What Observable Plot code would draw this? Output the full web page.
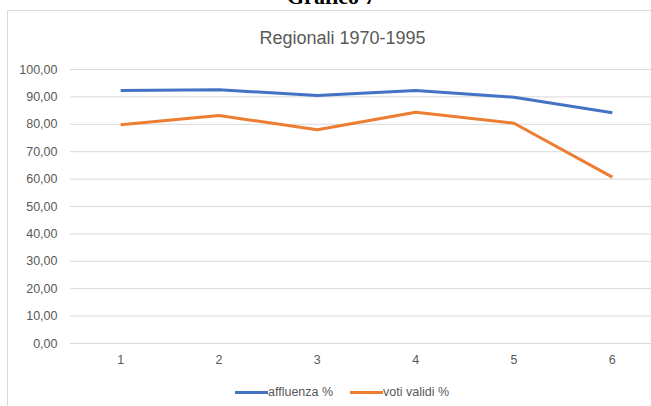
<!DOCTYPE html>
<html>
<head>
<meta charset="utf-8">
<script src="https://cdn.jsdelivr.net/npm/d3@7"></script>
<script src="https://cdn.jsdelivr.net/npm/@observablehq/plot@0.6"></script>
<style>
  html, body { margin: 0; padding: 0; background: #fff; overflow: hidden; }
  #page { position: relative; width: 651px; height: 406px; overflow: hidden; }
  #chart { position: absolute; left: 0; top: 0; }
  #frame { position: absolute; left: 7px; top: 10px; width: 660px; height: 400px;
           border-top: 1px solid #d9d9d9; border-left: 1px solid #d9d9d9; }
  #heading { position: absolute; left: 287px; top: -14px; font: bold 22px "Liberation Serif", serif; line-height: 22px; color: #000; white-space: nowrap; }
  #title { position: absolute; left: 0; width: 685px; top: 29px; text-align: center; font: 18px "Liberation Sans", sans-serif; line-height: 18px; color: #595959; }
  #legend { position: absolute; left: 235px; top: 384px; height: 16px; display: flex; align-items: center; font: 12.5px "Liberation Sans", sans-serif; color: #595959; }
  .sw { display: inline-block; width: 33px; height: 3px; }
  .item { display: flex; align-items: center; margin-right: 17px; white-space: nowrap; }
</style>
</head>
<body>
<div id="page">
  <div id="frame"></div>
  <div id="chart"></div>
  <div id="heading">Grafico 7</div>
  <div id="title">Regionali 1970-1995</div>
  <div id="legend"></div>
</div>
<script>
const periods = [1, 2, 3, 4, 5, 6];
const affluenza = [92.3, 92.6, 90.5, 92.3, 89.9, 84.2];
const votiValidi = [79.8, 83.2, 78.0, 84.4, 80.4, 60.7];
const yTicks = [0, 10, 20, 30, 40, 50, 60, 70, 80, 90, 100];
const seriesNames = ["affluenza %", "voti validi %"];
const seriesColors = ["#4472C4", "#ED7D31"];

const rows = [];
periods.forEach((p, i) => {
  rows.push({period: p, value: affluenza[i], series: seriesNames[0]});
  rows.push({period: p, value: votiValidi[i], series: seriesNames[1]});
});

const fmt = v => v.toFixed(2).replace(".", ",");

const chart = Plot.plot({
  width: 651,
  height: 406,
  marginTop: 69,
  marginBottom: 63,
  marginLeft: 70,
  marginRight: 0,
  style: {fontFamily: "Liberation Sans, sans-serif", fontSize: "12.5px", color: "#595959", background: "transparent"},
  x: {type: "linear", domain: [0.5, 6.5], range: [71, 661]},
  y: {domain: [0, 100]},
  color: {domain: seriesNames, range: seriesColors},
  marks: [
    Plot.ruleY(yTicks, {stroke: "#d9d9d9", strokeWidth: 1}),
    Plot.axisY({ticks: yTicks, tickSize: 0, tickPadding: 13, tickFormat: fmt, label: null}),
    Plot.axisX({ticks: periods, tickSize: 0, tickPadding: 12, tickFormat: d => String(d), label: null}),
    Plot.line(rows, {x: "period", y: "value", z: "series", stroke: "series", strokeWidth: 3, strokeLinejoin: "round", strokeLinecap: "butt"})
  ]
});
document.getElementById("chart").appendChild(chart);

const legend = document.getElementById("legend");
seriesNames.forEach((name, i) => {
  const item = document.createElement("span");
  item.className = "item";
  const sw = document.createElement("span");
  sw.className = "sw";
  sw.style.background = seriesColors[i];
  const label = document.createElement("span");
  label.textContent = name;
  item.appendChild(sw);
  item.appendChild(label);
  legend.appendChild(item);
});
</script>
</body>
</html>
